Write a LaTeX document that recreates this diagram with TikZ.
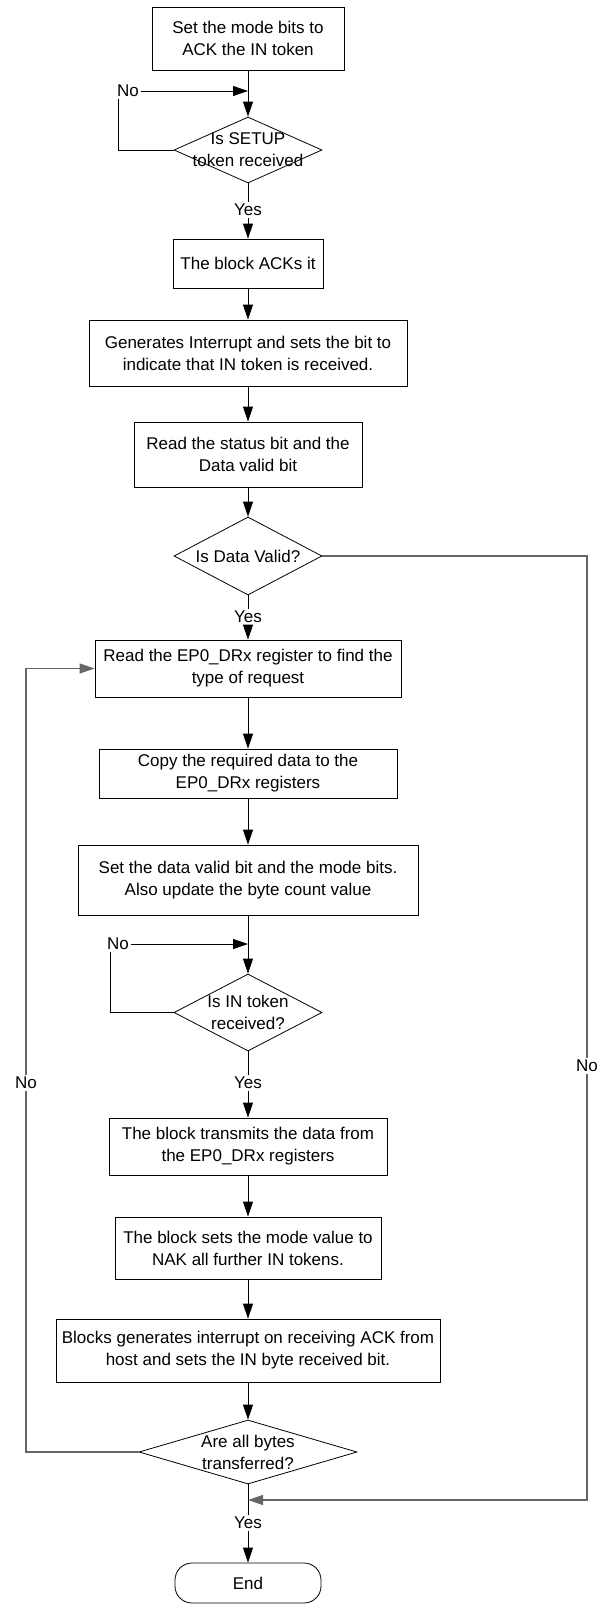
\documentclass[tikz,border=0pt]{standalone}
\usepackage{fontspec}
\setmainfont{Liberation Sans}
\usetikzlibrary{arrows.meta,shapes.geometric}

\begin{document}
\begin{tikzpicture}[x=1pt,y=-1pt,
    font=\fontsize{17}{22}\selectfont,
    line width=0.8pt,
    blocco/.style={draw, rectangle, align=center, inner sep=2pt},
    rombo/.style={draw, diamond, inner sep=0pt},
    testo/.style={align=center, inner sep=1.5pt},
    freccia/.style={-{Triangle[length=15pt,width=10pt]}},
    ritorno/.style={draw=black!60, line width=1.1pt}]
    % cornice
    \useasboundingbox (0,0) rectangle (600,1604);

    % blocchi
    \node[blocco, minimum width=192pt, minimum height=63pt] (b1) at (248,38.5) {Set the mode bits to\\ACK the IN token};
    \node[rombo, minimum width=148pt, minimum height=66pt] (d1) at (248,150) {};
    \node[testo] (d1t) at (d1) {Is SETUP\\token received};
    \node[blocco, minimum width=150pt, minimum height=49pt] (b2) at (248,263.5) {The block ACKs it};
    \node[blocco, minimum width=318pt, minimum height=66pt] (b3) at (248,353) {Generates Interrupt and sets the bit to\\indicate that IN token is received.};
    \node[blocco, minimum width=228pt, minimum height=65pt] (b4) at (248,454.5) {Read the status bit and the\\Data valid bit};
    \node[rombo, minimum width=148pt, minimum height=78pt] (d2) at (248,556) {};
    \node[testo] (d2t) at (d2) {Is Data Valid?};
    \node[blocco, minimum width=306pt, minimum height=57pt] (b5) at (248,668.5) {Read the EP0\_DRx register to find the\\type of request};
    \node[blocco, minimum width=298pt, minimum height=49pt] (b6) at (248,773.5) {Copy the required data to the\\EP0\_DRx registers};
    \node[blocco, minimum width=340pt, minimum height=70pt] (b7) at (248,880) {Set the data valid bit and the mode bits.\\Also update the byte count value};
    \node[rombo, minimum width=148pt, minimum height=77pt] (d3) at (248,1012.5) {};
    \node[testo] (d3t) at (d3) {Is IN token\\received?};
    \node[blocco, minimum width=278pt, minimum height=57pt] (b8) at (248,1146.5) {The block transmits the data from\\the EP0\_DRx registers};
    \node[blocco, minimum width=266pt, minimum height=62pt] (b9) at (248,1248) {The block sets the mode value to\\NAK all further IN tokens.};
    \node[blocco, minimum width=384pt, minimum height=63pt] (b10) at (248,1350.5) {Blocks generates interrupt on receiving ACK from\\host and sets the IN byte received bit.};
    \node[rombo, minimum width=218pt, minimum height=64pt] (d4) at (248,1452) {};
    \node[testo] (d4t) at (d4) {Are all bytes\\transferred?};
    \node[draw, rounded corners=17pt, minimum width=146pt, minimum height=40pt] (fine) at (248,1583) {End};

    % etichette
    \node[testo] (yes1) at (248,210) {Yes};
    \node[testo] (yes2) at (248,617) {Yes};
    \node[testo] (yes3) at (248,1083) {Yes};
    \node[testo] (yes4) at (248,1523) {Yes};
    \node[testo] (no1) at (128,91) {No};
    \node[testo] (no3) at (118,944) {No};
    \node[testo] (noL) at (26,1083) {No};
    \node[testo] (noR) at (587,1066) {No};
    \coordinate (unione) at (248,1500);

    % frecce verticali
    \draw[freccia] (b1) -- (d1);
    \draw (d1) -- (yes1);
    \draw[freccia] (yes1) -- (b2);
    \draw[freccia] (b2) -- (b3);
    \draw[freccia] (b3) -- (b4);
    \draw[freccia] (b4) -- (d2);
    \draw (d2) -- (yes2);
    \draw[freccia] (yes2) -- (b5);
    \draw[freccia] (b5) -- (b6);
    \draw[freccia] (b6) -- (b7);
    \draw[freccia] (b7) -- (d3);
    \draw (d3) -- (yes3);
    \draw[freccia] (yes3) -- (b8);
    \draw[freccia] (b8) -- (b9);
    \draw[freccia] (b9) -- (b10);
    \draw[freccia] (b10) -- (d4);
    \draw (d4) -- (yes4);
    \draw[freccia] (yes4) -- (fine);

    % attese
    \draw (d1.west) -| ([xshift=3pt]no1.south west);
    \draw[freccia] (no1.east) -- (no1.east -| b1.south);
    \draw (d3.west) -| ([xshift=5pt]no3.south west);
    \draw[freccia] (no3.east) -- (no3.east -| b7.south);

    % ritorni
    \draw[ritorno] (d4.west) -| (noL);
    \draw[ritorno, freccia] (noL) |- (b5.west);
    \draw[ritorno] (d2.east) -| (noR);
    \draw[ritorno, freccia] (noR) |- (unione);
\end{tikzpicture}
\end{document}
